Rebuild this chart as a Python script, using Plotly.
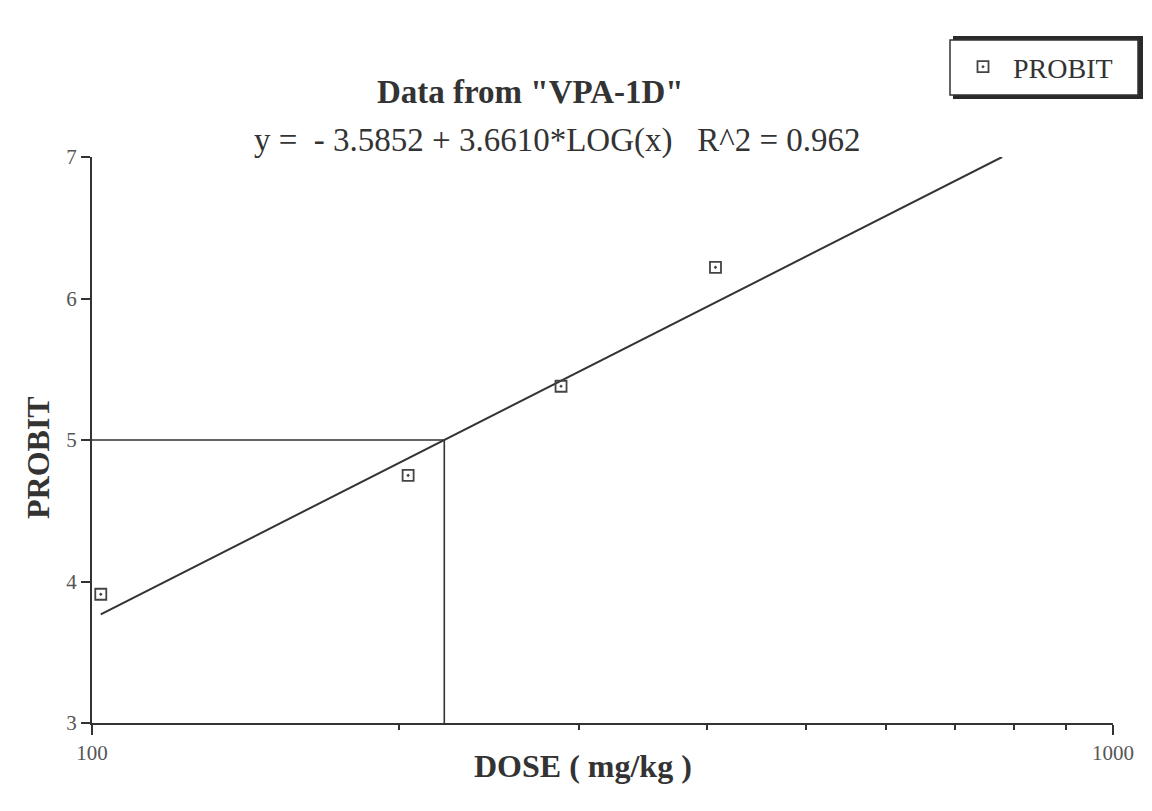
import numpy as np
import plotly.graph_objects as go

# Observed dose-response points
dose = [102, 204, 288, 408]
probit = [3.91, 4.75, 5.38, 6.22]

# Fitted probit line: y = a + b*log10(x)
intercept = -3.5852
slope = 3.6610
r_squared = 0.962

x_tick_vals = [100, 1000]
x_minor_vals = [200, 300, 400, 500, 600, 700, 800, 900]
y_tick_vals = [3, 4, 5, 6, 7]

x_start = 102
x_end = 10 ** ((7 - intercept) / slope)
fit_x = np.logspace(np.log10(x_start), np.log10(x_end), 50)
fit_y = intercept + slope * np.log10(fit_x)

ed50 = 10 ** ((5 - intercept) / slope)

serif = "Liberation Serif"
ink = "#333333"

# Plot area in pixels, used to place paper-referenced decorations
L, R, T, B = 92, 1113, 157, 723


def px_x(px):
    return (px - L) / (R - L)


def px_y(py):
    return (B - py) / (B - T)


fig = go.Figure()

fig.add_trace(go.Scatter(
    x=fit_x, y=fit_y, mode="lines",
    line=dict(color=ink, width=2), showlegend=False, hoverinfo="skip",
))

# Drop lines marking the dose at probit 5
fig.add_trace(go.Scatter(
    x=[100, ed50, ed50], y=[5, 5, 3], mode="lines",
    line=dict(color=ink, width=1.6), showlegend=False, hoverinfo="skip",
))

fig.add_trace(go.Scatter(
    x=dose, y=probit, mode="markers", name="PROBIT",
    marker=dict(symbol="square-open-dot", size=11, color="#444444",
                line=dict(width=1.8, color="#444444")),
))

tick_font = dict(family=serif, size=21, color="#555555")

fig.update_xaxes(
    type="log", range=[2, 3],
    tickmode="array", tickvals=x_tick_vals, ticktext=["100", "1000"],
    ticks="outside", ticklen=10, tickwidth=2, tickcolor=ink,
    minor=dict(tickmode="array", tickvals=x_minor_vals, ticks="outside",
               ticklen=5, tickwidth=2, tickcolor=ink),
    showline=True, linecolor=ink, linewidth=2,
    showgrid=False, zeroline=False,
    tickfont=tick_font,
)

fig.update_yaxes(
    range=[3, 7],
    tickmode="array", tickvals=y_tick_vals,
    ticks="outside", ticklen=9, tickwidth=2, tickcolor=ink,
    showline=True, linecolor=ink, linewidth=2,
    showgrid=False, zeroline=False,
    tickfont=tick_font,
)

# Axis titles
fig.add_annotation(
    xref="paper", yref="paper", x=px_x(583), y=px_y(766),
    xanchor="center", yanchor="middle", showarrow=False,
    text="<b>DOSE ( mg/kg )</b>",
    font=dict(family=serif, size=32, color="#333333"),
)
fig.add_annotation(
    xref="paper", yref="paper", x=px_x(38), y=px_y(458),
    xanchor="center", yanchor="middle", showarrow=False, textangle=-90,
    text="<b>PROBIT</b>",
    font=dict(family=serif, size=32, color="#333333"),
)

fig.add_annotation(
    xref="paper", yref="paper", x=px_x(530), y=px_y(92),
    xanchor="center", yanchor="middle",
    text='<b>Data from "VPA-1D"</b>', showarrow=False,
    font=dict(family=serif, size=33, color="#333333"),
)
fig.add_annotation(
    xref="paper", yref="paper", x=px_x(557), y=px_y(140),
    xanchor="center", yanchor="middle",
    text=f"y =  - {abs(intercept):.4f} + {slope:.4f}*LOG(x)   R^2 = {r_squared:.3f}",
    showarrow=False,
    font=dict(family=serif, size=33, color="#333333"),
)

# Legend frame with a drop shadow
fig.add_shape(
    type="rect", xref="paper", yref="paper",
    x0=px_x(953), x1=px_x(1143), y0=px_y(99), y1=px_y(36),
    fillcolor="#2a2a2a", line=dict(width=0), layer="below",
)
fig.add_shape(
    type="rect", xref="paper", yref="paper",
    x0=px_x(950), x1=px_x(1138), y0=px_y(95), y1=px_y(40),
    fillcolor="white", line=dict(width=1.5, color="#333333"), layer="below",
)

fig.update_layout(
    width=1152, height=811,
    margin=dict(l=L, r=1152 - R, t=T, b=811 - B),
    paper_bgcolor="white", plot_bgcolor="white",
    showlegend=True,
    legend=dict(
        x=px_x(953), y=px_y(67), xanchor="left", yanchor="middle",
        bgcolor="rgba(0,0,0,0)", borderwidth=0,
        font=dict(family=serif, size=28, color="#333333"),
        itemwidth=50,
    ),
)

fig.write_html("out.html")
